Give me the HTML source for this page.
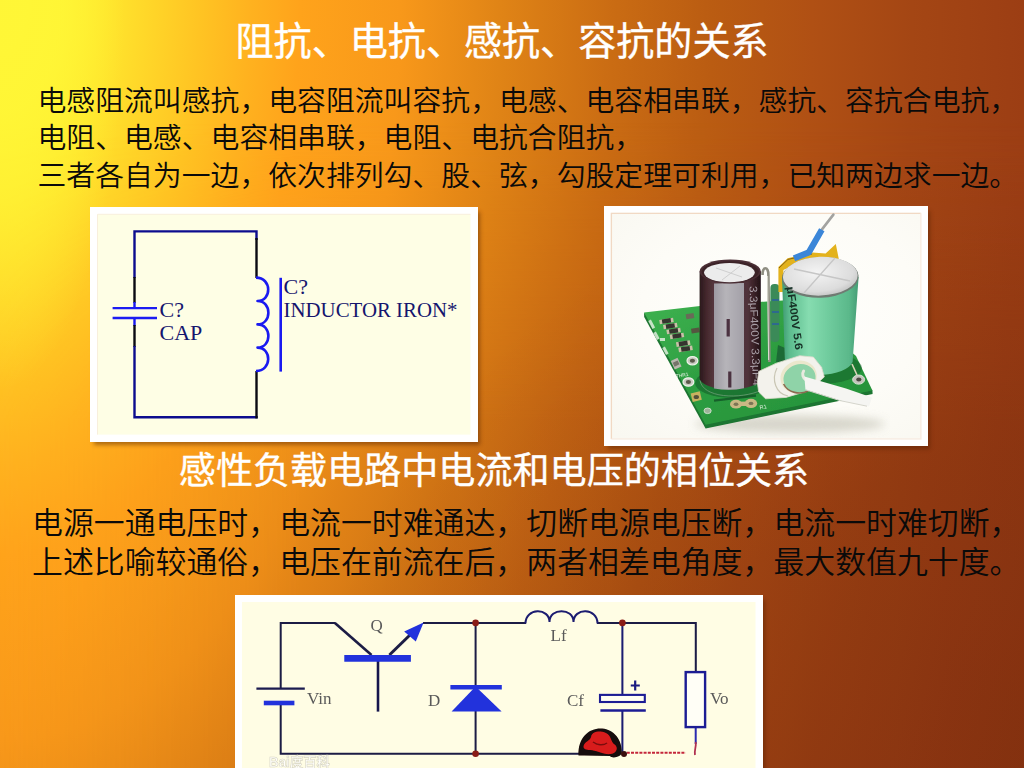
<!DOCTYPE html>
<html lang="zh-CN">
<head>
<meta charset="utf-8">
<title>阻抗、电抗、感抗、容抗的关系</title>
<style>
html,body{margin:0;padding:0;}
body{width:1024px;height:768px;overflow:hidden;position:relative;
  font-family:"Liberation Sans","Noto Sans CJK SC",sans-serif;
  background:radial-gradient(ellipse 1450px 2682px at 0 0,#FFF838 0.00%,#FFF434 4.14%,#FFE82E 6.90%,#FFC423 13.79%,#FFB21F 17.24%,#FFA31B 20.69%,#F8981A 27.59%,#E08416 34.48%,#CA6C13 42.21%,#BA5C12 49.10%,#B05014 56.00%,#A44614 62.90%,#9C3E14 70.62%,#943A13 79.31%,#8C3612 89.66%,#843010 100.00%);}
.t{position:absolute;white-space:nowrap;margin:0;line-height:1;}
.h{color:#fff;font-weight:400;-webkit-text-stroke:.35px #fff;}
.b{color:#0a0a0a;font-weight:350;}
.frame{position:absolute;background:#fff;box-shadow:3px 4px 4px -1px rgba(80,32,0,.45);}
.frame svg{position:absolute;left:0;top:0;display:block;}
</style>
</head>
<body>
<!--BG-->
<div style="position:absolute;left:0;top:0;width:1024px;height:768px;opacity:.36;-webkit-mask-image:linear-gradient(90deg,rgba(0,0,0,.3) 0,#000 300px);mask-image:linear-gradient(90deg,rgba(0,0,0,.3) 0,#000 300px)"><div style="position:absolute;left:0;top:0;width:1024px;height:768px;-webkit-mask-image:linear-gradient(180deg,rgba(0,0,0,0) 120px,#000 420px);mask-image:linear-gradient(180deg,rgba(0,0,0,0) 120px,#000 420px);background:linear-gradient(118.39deg,#FFF838 0.0px,#FFF434 52.8px,#FFE82E 88.0px,#FFC423 175.9px,#FFB21F 219.9px,#FFA31B 263.9px,#F8981A 351.9px,#E08416 439.9px,#CA6C13 538.4px,#BA5C12 626.4px,#B05014 714.3px,#A44614 802.3px,#9C3E14 900.8px,#943A13 1011.7px,#8C3612 1143.6px,#843010 1275.6px)"></div></div>
<div style="position:absolute;left:0;top:0;width:200px;height:420px;background:radial-gradient(ellipse 125px 390px at 0 0,rgba(255,246,54,.9) 0,rgba(255,246,54,.6) 50%,rgba(255,246,54,0) 100%)"></div>
<div style="position:absolute;left:0;top:0;width:1024px;height:768px;background:radial-gradient(ellipse 720px 620px at 1024px 768px,rgba(50,5,0,.13) 0,rgba(50,5,0,.1) 50%,rgba(50,5,0,0) 100%)"></div>
<!--/BG-->
<div class="t h" style="left:235.5px;top:23.2px;font-size:38.1px;">阻抗、电抗、感抗、容抗的关系</div>
<div class="t b" style="left:37.5px;top:87px;font-size:28.85px;">电感阻流叫感抗，电容阻流叫容抗，电感、电容相串联，感抗、容抗合电抗，</div>
<div class="t b" style="left:37.5px;top:124px;font-size:28.85px;">电阻、电感、电容相串联，电阻、电抗合阻抗，</div>
<div class="t b" style="left:37.5px;top:161.5px;font-size:28.85px;">三者各自为一边，依次排列勾、股、弦，勾股定理可利用，已知两边求一边。</div>

<div class="frame" id="f1" style="left:90px;top:207px;width:388px;height:235px;">
<svg width="388" height="235" viewBox="90 207 388 235" style="left:0;top:0">
<rect x="90" y="207" width="388" height="235" fill="#fff"/>
<rect x="97.5" y="214.3" width="373" height="220.3" fill="#fefee5"/>
<path d="M97.5 434.6V214.3H470.5" fill="none" stroke="#f8efdc" stroke-width="1"/>
<g fill="none" stroke-width="2.4" stroke-linecap="butt">
<path d="M134.5 278V230.3M133.3 231.4H257.7M256.5 230.3V240" stroke="#0c0c8e"/>
<path d="M256.5 238V278" stroke="#0a0a12"/>
<path d="M134.5 277V303" stroke="#0a0a12"/>
<path d="M134.5 302V308M134.5 318V326" stroke="#1a1af0"/>
<path d="M134.5 325V347" stroke="#0a0a12"/>
<path d="M134.5 346V418.4M133.3 417.2H257.7" stroke="#0c0c8e"/>
<path d="M256.5 371V418.4" stroke="#0a0a12"/>
<path d="M112.6 308.2H157M112.6 318H157" stroke="#1c1cf2" stroke-width="2.3"/>
<path d="M256 277.6C272 277.6 272 301 257.5 301C272 301 272 324.4 257.5 324.4C272 324.4 272 347.6 257.5 347.6C272 347.6 272 371 256 371" stroke="#1a1af0" stroke-width="2.6" stroke-linejoin="round"/>
<path d="M280.7 277.8V371.6" stroke="#1a1af0" stroke-width="2.6"/>
</g>
<g font-family="'Liberation Serif',serif" font-size="22" fill="#15156e">
<text x="159.5" y="317">C?</text>
<text x="159.5" y="339.5">CAP</text>
<text x="283.5" y="294">C?</text>
<text x="283.5" y="317.3" textLength="174" lengthAdjust="spacingAndGlyphs">INDUCTOR IRON*</text>
</g>
</svg>
</div>

<div class="frame" id="f2" style="left:604px;top:206px;width:324px;height:240px;">
<svg width="324" height="240" viewBox="604 206 324 240">
<defs>
<filter id="ph" x="-2%" y="-2%" width="104%" height="104%"><feGaussianBlur stdDeviation="0.55"/></filter>
<filter id="sh" x="-20%" y="-50%" width="140%" height="200%"><feGaussianBlur stdDeviation="5"/></filter>
<radialGradient id="pbg" cx="55%" cy="45%" r="75%"><stop offset="0" stop-color="#fffffd"/><stop offset=".6" stop-color="#fdfcf7"/><stop offset="1" stop-color="#f9f8f1"/></radialGradient>
<linearGradient id="dcap" x1="0" x2="1" y1="0" y2="0"><stop offset="0" stop-color="#2a181c"/><stop offset=".12" stop-color="#46292e"/><stop offset=".22" stop-color="#54363c"/><stop offset=".78" stop-color="#50333a"/><stop offset=".9" stop-color="#382026"/><stop offset="1" stop-color="#201216"/></linearGradient>
<linearGradient id="dstripe" x1="0" x2="1" y1="0" y2="0"><stop offset="0" stop-color="#9d9aa2"/><stop offset=".4" stop-color="#b6b4b9"/><stop offset="1" stop-color="#a3a0a8"/></linearGradient>
<linearGradient id="gcap" x1="0" x2="1" y1="0" y2="0"><stop offset="0" stop-color="#3f9a72"/><stop offset=".1" stop-color="#5cbc8e"/><stop offset=".35" stop-color="#86dcb0"/><stop offset=".6" stop-color="#70cc9e"/><stop offset=".88" stop-color="#5ab88a"/><stop offset="1" stop-color="#459c74"/></linearGradient>
<linearGradient id="pcb" x1="0" x2="1" y1="0" y2="1"><stop offset="0" stop-color="#3eb250"/><stop offset=".5" stop-color="#2c9c40"/><stop offset="1" stop-color="#249038"/></linearGradient>
<radialGradient id="gtop" cx="45%" cy="40%" r="70%"><stop offset="0" stop-color="#f4f4f4"/><stop offset=".7" stop-color="#dcdcdc"/><stop offset="1" stop-color="#b8b8b8"/></radialGradient>
</defs>
<rect x="604" y="206" width="324" height="240" fill="#fff"/>
<rect x="610.6" y="212.6" width="311" height="227" fill="url(#pbg)"/>
<path d="M611.4 438.9V213.3H920.8" fill="none" stroke="#f1d9c4" stroke-width="1.3"/><path d="M920.8 213.3V438.9H611.4" fill="none" stroke="#f8ece2" stroke-width="1.2"/>
<g filter="url(#ph)">
<ellipse cx="790" cy="424" rx="95" ry="9" fill="#b9b7a8" opacity=".55" filter="url(#sh)"/>
<!-- pcb edge + top -->
<path d="M644 313L644.2 317L705.6 428.6L872.6 394L872.4 390Z" fill="#1c7430"/>
<path d="M644 312.6L700 306L790 300L856 356L872.4 390.4L705.6 424.8Z" fill="url(#pcb)"/>
<path d="M714 400.6L756 395.6" stroke="#15602a" stroke-width="2.2" fill="none"/>
<path d="M700 380C702 398 740 400 762 390" stroke="#d6ecd6" stroke-width="1" fill="none" opacity=".8"/>
<!-- smd parts -->
<g transform="rotate(-9 676 330)">
<g fill="#c9c1a8"><rect x="661" y="317.4" width="14" height="4.4"/><rect x="664" y="323" width="14" height="4.4"/><rect x="666.5" y="328.4" width="14" height="4.4"/><rect x="669" y="333.8" width="14" height="4.4"/><rect x="674" y="342.2" width="14" height="4.6"/><rect x="675.5" y="347.8" width="14" height="4.6"/></g>
<g fill="#34342e"><rect x="663.6" y="317.4" width="8.8" height="4.4"/><rect x="666.6" y="323" width="8.8" height="4.4"/><rect x="669.1" y="328.4" width="8.8" height="4.4"/><rect x="671.6" y="333.8" width="8.8" height="4.4"/><rect x="676.6" y="342.2" width="8.8" height="4.6"/><rect x="678.1" y="347.8" width="8.8" height="4.6"/></g>
<rect x="688" y="316" width="8" height="5" fill="#6a6a58"/><rect x="691" y="331" width="8" height="5" fill="#55553f"/>
</g>
<g fill="#dfeedd" opacity=".85"><rect x="650" y="320" width="3" height="9" transform="rotate(-28 651 324)"/><rect x="655" y="332" width="3" height="8" transform="rotate(-28 656 336)"/><rect x="664" y="347" width="3" height="8" transform="rotate(-28 665 351)"/><rect x="660" y="338" width="5" height="3"/></g>
<rect x="672.5" y="359" width="7.5" height="9.5" fill="#b9b8ae" transform="rotate(-25 676 364)"/>
<rect x="673.6" y="361.4" width="5.4" height="4.4" fill="#75746a" transform="rotate(-25 676 364)"/>
<g fill="#c9c9c1" stroke="#eef3ea" stroke-width="1.2"><ellipse cx="692.4" cy="360.8" rx="5.4" ry="4.2"/><ellipse cx="688.4" cy="382" rx="5.4" ry="4.2"/></g>
<g fill="#5b5a4c"><ellipse cx="692.4" cy="360.8" rx="2.6" ry="2"/><ellipse cx="688.4" cy="382" rx="2.6" ry="2"/></g>
<rect x="691.6" y="392.4" width="9.4" height="8.6" fill="#c8b15e" transform="rotate(-14 696 397)"/>
<ellipse cx="696.3" cy="397" rx="2.7" ry="2.1" fill="#54503a"/>
<ellipse cx="707.6" cy="410.8" rx="3.6" ry="2.8" fill="#9db39a" stroke="#dcebd8" stroke-width=".8"/>
<g fill="#c9b884"><ellipse cx="736" cy="404.2" rx="6" ry="4.4"/><ellipse cx="751" cy="403.4" rx="6.2" ry="4.6"/><rect x="738" y="401.6" width="11" height="4.4"/></g>
<g fill="#7d7454"><ellipse cx="736" cy="404.2" rx="2.4" ry="1.7"/><ellipse cx="751" cy="403.4" rx="2.4" ry="1.7"/></g>
<text x="760" y="409.6" font-family="'Liberation Sans',sans-serif" font-size="5.5" fill="#e4f0e2" transform="rotate(-12 760 409)">R1</text>
<text x="676" y="378" font-family="'Liberation Sans',sans-serif" font-size="5" fill="#e4f0e2" transform="rotate(-10 676 378)">THR1</text>
<!-- resistor / rod between caps -->
<rect x="770.4" y="284" width="9" height="58" rx="4" fill="#3a8a58"/>
<path d="M772 300h7M772 312h7M772 324h7" stroke="#2d5fa0" stroke-width="1.6"/>
<path d="M778 345L776 362L788 362L790 350Z" fill="#1f6a34"/>
<path d="M762.6 275C762 266 768.6 266 768.4 275L769.4 362" stroke="#8f8e82" stroke-width="2.6" fill="none"/>
<path d="M767.6 276L768.6 360" stroke="#e4e4da" stroke-width=".9" fill="none"/>
<ellipse cx="732" cy="383" rx="37" ry="15" fill="#135a26" opacity=".55"/>
<ellipse cx="820" cy="368" rx="42" ry="16" fill="#135a26" opacity=".5"/>
<!-- dark cap -->
<path d="M699.6 271.4V378A30.6 11.4 0 0 0 760.8 378V271.4Z" fill="url(#dcap)"/>
<path d="M714 283.6L714 388.4A30.6 11.4 0 0 0 744 388.2L744 283Z" fill="url(#dstripe)"/>
<ellipse cx="730.2" cy="271.4" rx="30.6" ry="12" fill="#4a2e34"/>
<ellipse cx="730.2" cy="271.8" rx="28.6" ry="10.6" fill="#3a2228"/>
<ellipse cx="729.4" cy="272.6" rx="25.4" ry="9.6" fill="#ececec"/>
<path d="M716 268L742 277M740 266L722 280" stroke="#cfcfcf" stroke-width="1" fill="none"/>
<path d="M728.2 319V336.6M729.8 371.6V387.6" stroke="#4b3040" stroke-width="3.2"/>
<text transform="translate(749.4 286) rotate(88)" font-family="'Liberation Sans',sans-serif" font-size="11" fill="#a89ea6" textLength="100" lengthAdjust="spacingAndGlyphs">3.3μF400V 3.3μF4</text>
<!-- yellow tape / wires -->
<path d="M778.4 292V267L787.6 258.2L812.4 252.6L825.6 253.4L835.8 244L838.8 259L800 262L783.4 270V292Z" fill="#e3b21e"/>
<path d="M779 268L788 259.4L812 254" stroke="#8a6410" stroke-width="1" fill="none"/>
<path d="M833.4 214.6L821.8 229.6" stroke="#a3a3a0" stroke-width="2.6" fill="none" stroke-linecap="round"/>
<path d="M821.8 229.8L808.8 252.4L794 258.4" stroke="#3a86d8" stroke-width="6.2" fill="none" stroke-linejoin="round"/>
<!-- green cap -->
<path d="M782 277L785 364A35 16 0 0 0 852.6 362L858.6 277Z" fill="url(#gcap)"/>
<ellipse cx="820.3" cy="277.4" rx="38.3" ry="20.4" fill="#6f7a72" transform="rotate(-2 820.3 277)"/>
<ellipse cx="820.3" cy="276.2" rx="37.4" ry="19.4" fill="url(#gtop)" transform="rotate(-2 820.3 276)"/>
<path d="M794 269L850 281M835 258L804 293" stroke="#c6c6c6" stroke-width="1.3" fill="none"/>
<text transform="translate(786.6 287) rotate(82)" font-family="'Liberation Sans',sans-serif" font-weight="bold" font-size="11" fill="#173026" textLength="64" lengthAdjust="spacingAndGlyphs">μF400V 5.6</text>
<!-- right pcb corner pad -->
<ellipse cx="858.6" cy="379.6" rx="6" ry="4.6" fill="#c4c4bc" stroke="#e8f0e4" stroke-width=".8"/>
<ellipse cx="858.8" cy="379.6" rx="2.6" ry="2" fill="#4a4a40"/>
<path d="M852 364L857 375" stroke="#d9d5b8" stroke-width="1.6"/>
<!-- white blob -->
<path d="M758.7 371.4L776.4 363.2L799.7 355.7L813.4 357.1L821.6 367.3L824.3 376.9L809.3 390.6L786 397.4L765.5 398.8L758.7 392L757.3 382.4Z" fill="#f3f2ec" stroke="#dcdacc" stroke-width=".8"/>
<path d="M777 368C771 380 776 394 788 396" stroke="#c9c6b4" stroke-width="1.2" fill="none"/>
<ellipse cx="798.6" cy="377" rx="18.4" ry="16.2" fill="#ebe7cc" transform="rotate(-18 798.6 377)"/>
<ellipse cx="799.4" cy="378.4" rx="16.2" ry="14.2" fill="#8fd3a8" transform="rotate(-18 799.4 378)"/>
<path d="M783.6 384C788 393 800 395 808 391" stroke="#8a6a50" stroke-width="1.6" fill="none"/>
<path d="M803.6 371C801.6 374 803 378 806 380" stroke="#e9e9df" stroke-width="3" fill="none" stroke-linecap="round"/>
<path d="M804.4 376.4L846 388.4L872 397.6L869 406.4L840 400.4L805.4 389.6Z" fill="#f5f5f2"/>
<path d="M805.6 389.8L840 400.6L867 406.2" stroke="#d4d4cc" stroke-width="1" fill="none"/>
</g>
</svg>
</div>

<div class="t h" style="left:178.8px;top:452.6px;font-size:37.1px;">感性负载电路中电流和电压的相位关系</div>
<div class="t b" style="left:32px;top:508.5px;font-size:30.9px;">电源一通电压时，电流一时难通达，切断电源电压断，电流一时难切断，</div>
<div class="t b" style="left:32px;top:548px;font-size:30.9px;">上述比喻较通俗，电压在前流在后，两者相差电角度，最大数值九十度。</div>

<div class="frame" id="f3" style="left:235px;top:595px;width:528px;height:185px;">
<svg width="528" height="185" viewBox="235 595 528 185">
<defs><filter id="soft" x="-5%" y="-5%" width="110%" height="110%"><feGaussianBlur stdDeviation="0.45"/></filter></defs>
<rect x="235" y="595" width="528" height="185" fill="#fff"/>
<rect x="242" y="602" width="513.5" height="178" fill="#fffde4"/>
<g filter="url(#soft)">
<g fill="none" stroke="#1c1c44" stroke-width="2">
<path d="M280.7 688V622.9H335.5"/>
<path d="M280.7 704V753.8H580"/>
<path d="M423 622.9H526M597 622.9H695.8V672"/>
<path d="M475.6 622.9V687M475.6 711V753.8"/>
<path d="M622.4 622.9V694M622.4 710.4V753.8" stroke="#1a1a70"/>
<path d="M256.4 688.6H304.8" stroke="#1c1c50" stroke-width="2.2"/>
<path d="M334.9 622.9L371.5 655" stroke-width="2.6"/>
<path d="M389.4 655L412 633" stroke-width="3"/>
<path d="M378 661V711.6" stroke="#17174e" stroke-width="2.6"/>
<path d="M525.5 623.5C525.5 607.5 549.5 607.5 549.5 622C549.5 607.5 573.5 607.5 573.5 622C573.5 607.5 597.5 607.5 597.5 623.5" stroke="#1c1c70" stroke-width="2"/>
<path d="M695.7 728V744" stroke="#2a2ab0"/>
</g>
<g stroke="#2030dc" fill="none">
<path d="M263.8 703H294.4" stroke-width="4.6"/>
<path d="M344.3 658.4H410.9" stroke-width="6.9"/>
<path d="M450.4 687.3H501.8" stroke-width="4.4"/>
</g>
<path d="M423.6 622.6L404.2 631.4L415.8 641.6Z" fill="#2030dc"/>
<path d="M475.6 686.5L451.6 711.6H501.6Z" fill="#2030dc"/>
<rect x="600" y="694.9" width="44.8" height="7.1" fill="#fffef2" stroke="#1c1c94" stroke-width="2.1"/>
<path d="M600.4 710.4H645.8" stroke="#1c1c94" stroke-width="2.5"/>
<rect x="685.7" y="672.1" width="19.4" height="55" fill="#fffef6" stroke="#1c1c94" stroke-width="2.4"/>
<path d="M630.8 685.5H639.8M635.2 680.6V690.6" stroke="#1a1a80" stroke-width="2.2"/>
<g fill="#8a1c14"><circle cx="475.6" cy="622.9" r="3.3"/><circle cx="475.6" cy="753.8" r="3.3"/><circle cx="622.4" cy="622.9" r="3.3"/></g>
<path d="M626.8 752.8H685.7" stroke="#c4283a" stroke-width="2" stroke-dasharray="3 1.2" fill="none"/>
<path d="M695.7 742C696.5 747 694 750 695 755" stroke="#b03050" stroke-width="1.8" fill="none"/>
<path d="M578.5 755.5C577 720 621.5 720 621.8 752C622 757 612 759 610 756L584 755.5Z" fill="#120808"/>
<path d="M583.5 746C585 741 590 741 591 737C592 731 600 730.5 606 733C611 735 611 742 614 744C619 747 617 753 611 754C603 755 596 750 590 750C586 750 583 749 583.5 746Z" fill="#d81c1c"/>
<path d="M593 742C597 745 603 746 607 743" stroke="#7a0c0c" stroke-width="1.4" fill="none"/>
<circle cx="624" cy="754" r="3" fill="#3a1010"/>
</g>
<g font-family="'Liberation Serif',serif" font-size="17" fill="#5a5a5a" filter="url(#soft)">
<text x="370.5" y="631">Q</text>
<text x="307" y="703.7">Vin</text>
<text x="428" y="706.3">D</text>
<text x="550.5" y="640.5">Lf</text>
<text x="567" y="706">Cf</text>
<text x="710" y="704">Vo</text>
</g>
<text x="269" y="767" font-family="'Liberation Sans','Noto Sans CJK SC',sans-serif" font-size="14" font-weight="bold" fill="#ffffff" stroke="#cfcdbc" stroke-width=".6" opacity=".85" textLength="61" lengthAdjust="spacingAndGlyphs" filter="url(#soft)">Bai度百科</text>
</svg>
</div>
</body>
</html>
